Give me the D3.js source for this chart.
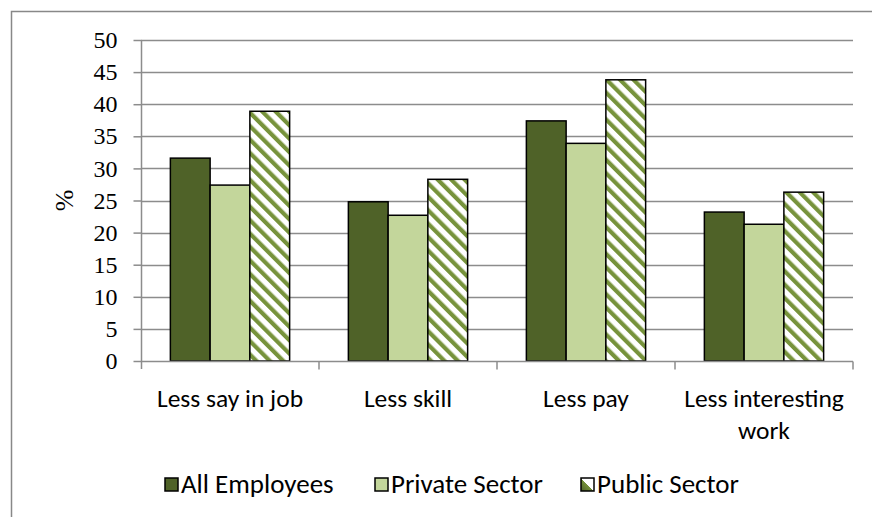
<!DOCTYPE html>
<html>
<head>
<meta charset="utf-8">
<script src="https://cdn.jsdelivr.net/npm/d3@7"></script>
<style>
  body { margin: 0; background: #fff; }
  svg { display: block; }
</style>
</head>
<body>
<svg width="872" height="517"></svg>
<script>
const width = 872,
    height = 517,
    margin = ({ top: 40, right: 19, bottom: 156, left: 141 });

const categories = ["Less say in job", "Less skill", "Less pay", "Less interesting work"];
const series = ["All Employees", "Private Sector", "Public Sector"];
const allEmployees = [31.6, 24.8, 37.4, 23.2];
const privateSector = [27.4, 22.7, 33.9, 21.3];
const publicSector = [38.9, 28.3, 43.8, 26.3];
const yTicks = [0, 5, 10, 15, 20, 25, 30, 35, 40, 45, 50];

const values = [allEmployees, privateSector, publicSector];
const fills = ["#4F6228", "#C3D69B", "url(#hatch)"];

const svg = d3.select("svg");

// patterns
const defs = svg.append("defs");
const hatch = defs.append("pattern")
    .attr("id", "hatch")
    .attr("patternUnits", "userSpaceOnUse")
    .attr("width", 9.5)
    .attr("height", 9.5)
    .attr("patternTransform", "rotate(-45)");
hatch.append("rect").attr("width", 9.5).attr("height", 9.5).attr("fill", "#fff");
hatch.append("rect").attr("x", 0).attr("width", 4.2).attr("height", 9.5).attr("fill", "#77933C");

const legHatch = defs.append("linearGradient")
    .attr("id", "legHatch")
    .attr("x1", 0).attr("y1", 1).attr("x2", 1).attr("y2", 0);
legHatch.append("stop").attr("offset", "0%").attr("stop-color", "#4F6228");
legHatch.append("stop").attr("offset", "50%").attr("stop-color", "#77933C");
legHatch.append("stop").attr("offset", "50%").attr("stop-color", "#fff");
legHatch.append("stop").attr("offset", "100%").attr("stop-color", "#fff");

// outer chart border (only top and left show in the crop)
svg.append("path")
    .attr("d", `M11.5,${height} V11.5 H${width}`)
    .attr("fill", "none")
    .attr("stroke", "#888")
    .attr("stroke-width", 1.5);

const x = d3.scaleBand()
    .domain(categories)
    .range([margin.left, width - margin.right])
    .paddingInner(0.33)
    .paddingOuter(0.165);

const x1 = d3.scaleBand()
    .domain(d3.range(series.length))
    .range([0, x.bandwidth()]);

const y = d3.scaleLinear()
    .domain([0, 50])
    .range([height - margin.bottom, margin.top]);

// gridlines
svg.append("g")
    .selectAll("line")
    .data(yTicks.slice(1))
    .join("line")
    .attr("x1", margin.left)
    .attr("x2", width - margin.right)
    .attr("y1", d => Math.round(y(d)) + 0.5)
    .attr("y2", d => Math.round(y(d)) + 0.5)
    .attr("stroke", "#8c8c8c")
    .attr("stroke-width", 1.5);

// y axis
const yAxis = svg.append("g")
    .attr("transform", `translate(${margin.left + 0.5},0)`)
    .call(d3.axisLeft(y).tickValues(yTicks).tickSize(8).tickPadding(16));
yAxis.select(".domain").attr("stroke", "#8c8c8c").attr("stroke-width", 1.5)
    .attr("d", `M0,${margin.top} V${y(0) + 8}`);
yAxis.selectAll(".tick line").attr("stroke", "#8c8c8c").attr("stroke-width", 1.5);
yAxis.selectAll(".tick text")
    .attr("font-family", "'Liberation Serif', 'Times New Roman', serif")
    .attr("font-size", 24)
    .attr("fill", "#000");

// bars
svg.append("g")
    .selectAll("g")
    .data(values)
    .join("g")
    .attr("fill", (d, i) => fills[i])
    .selectAll("rect")
    .data((d, i) => d.map((v, j) => ({ v, j, i })))
    .join("rect")
    .attr("x", d => x(categories[d.j]) + x1(d.i))
    .attr("width", x1.bandwidth())
    .attr("y", d => y(d.v))
    .attr("height", d => y(0) - y(d.v))
    .attr("stroke", "#000")
    .attr("stroke-width", 1.5);

// x axis
const step = x.step();
const xAxis = svg.append("g")
    .attr("transform", `translate(0,${y(0) + 0.5})`);
xAxis.append("line")
    .attr("x1", margin.left)
    .attr("x2", width - margin.right)
    .attr("stroke", "#8c8c8c")
    .attr("stroke-width", 1.5);
xAxis.selectAll(".tk")
    .data(categories)
    .join("line")
    .attr("class", "tk")
    .attr("x1", d => x(d) + x.bandwidth() / 2 + step / 2)
    .attr("x2", d => x(d) + x.bandwidth() / 2 + step / 2)
    .attr("y2", 8)
    .attr("stroke", "#8c8c8c")
    .attr("stroke-width", 1.5);

const labelFont = "Carlito, Lato, 'Open Sans', sans-serif";
xAxis.selectAll("text")
    .data(categories)
    .join("text")
    .attr("x", d => x(d) + x.bandwidth() / 2)
    .attr("y", 45)
    .attr("text-anchor", "middle")
    .attr("font-family", labelFont)
    .attr("font-size", 25.5)
    .attr("fill", "#000")
    .each(function (d) {
      const lines = d === "Less interesting work" ? ["Less interesting", "work"] : [d];
      d3.select(this).selectAll("tspan")
        .data(lines)
        .join("tspan")
        .attr("x", x(d) + x.bandwidth() / 2)
        .attr("dy", (l, k) => k ? 32 : 0)
        .text(l => l);
    });

// y label
svg.append("text")
    .attr("transform", `translate(73,${(y(0) + y(50)) / 2}) rotate(-90)`)
    .attr("text-anchor", "middle")
    .attr("font-family", "'Liberation Serif', 'Times New Roman', serif")
    .attr("font-size", 26)
    .text("%");

// legend
const legendX = [165, 375, 581];
const legendFills = ["#4F6228", "#C3D69B", "url(#legHatch)"];
const legend = svg.append("g")
    .selectAll("g")
    .data(series)
    .join("g")
    .attr("transform", (d, i) => `translate(${legendX[i]},478)`);
legend.append("rect")
    .attr("width", 13)
    .attr("height", 13)
    .attr("fill", (d, i) => legendFills[i])
    .attr("stroke", "#000")
    .attr("stroke-width", 1.5);
legend.append("text")
    .attr("x", 16)
    .attr("y", 15)
    .attr("font-family", labelFont)
    .attr("font-size", 27)
    .attr("fill", "#000")
    .text(d => d);
</script>
</body>
</html>
